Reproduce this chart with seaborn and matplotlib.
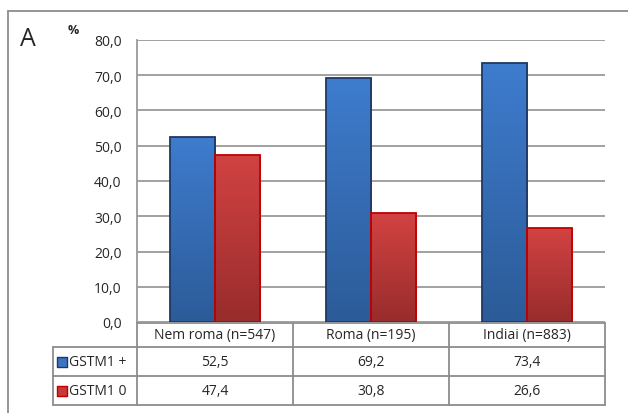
import numpy as np
import pandas as pd
import matplotlib
matplotlib.use("Agg")
import matplotlib.pyplot as plt
from matplotlib.colors import LinearSegmentedColormap
import seaborn as sns

categories = ["Nem roma (n=547)", "Roma (n=195)", "Indiai (n=883)"]
series = ["GSTM1 +", "GSTM1 0"]
gstm1_pos = [52.5, 69.2, 73.4]
gstm1_null = [47.4, 30.8, 26.6]
yticks = [0, 10, 20, 30, 40, 50, 60, 70, 80]

df = pd.DataFrame({
    "cat": categories * 2,
    "series": [series[0]] * 3 + [series[1]] * 3,
    "val": gstm1_pos + gstm1_null,
})

sns.set_theme(style="white")
plt.rcParams['font.family'] = ['Open Sans', 'DejaVu Sans']

W, H = 628, 414
fig = plt.figure(figsize=(W / 100, H / 100), dpi=100)

def fx(px):
    return px / W

def fy(py):
    return 1 - py / H

FS = 10

# main axes
L, R, T, B = 137, 605, 41, 323
ax = fig.add_axes([fx(L), fy(B), fx(R - L), (B - T) / H])

pal = {series[0]: "#3a74c2", series[1]: "#c83a3a"}
edges = {series[0]: "#1f3864", series[1]: "#c00000"}
sns.barplot(data=df, x="cat", y="val", hue="series", palette=pal, ax=ax,
            width=0.58, legend=False, saturation=1)

grad = {
    series[0]: LinearSegmentedColormap.from_list("b", ["#2c5b98", "#3e7cce"]),
    series[1]: LinearSegmentedColormap.from_list("r", ["#992c2c", "#d24242"]),
}
bars = list(ax.patches)
for i, p in enumerate(bars):
    s = series[0] if i < 3 else series[1]
    p.set_edgecolor(edges[s])
    p.set_linewidth(1.3)
    x0, y0 = p.get_x(), p.get_y()
    w, h = p.get_width(), p.get_height()
    img = np.linspace(0, 1, 100).reshape(-1, 1)
    im = ax.imshow(img, cmap=grad[s], origin="lower", aspect="auto",
                   extent=[x0, x0 + w, y0, y0 + h], zorder=p.get_zorder())
    im.set_clip_path(p)
    p.set_facecolor("none")
    p.set_zorder(3)

ax.set_xlim(-0.5, 2.5)
ax.set_ylim(0, 80)
ax.set_yticks(yticks)
ax.set_yticklabels([f"{v:.1f}".replace(".", ",") for v in yticks], fontsize=FS)
ax.tick_params(axis="y", length=0, pad=11)
ax.set_xticks([])
ax.set_xlabel("")
ax.set_ylabel("")
ax.grid(axis="y", color="#9a9a9a", linewidth=1.3)
ax.set_axisbelow(True)
for sp in ["top", "right", "bottom"]:
    ax.spines[sp].set_visible(False)
ax.spines["left"].set_color("#9a9a9a")
ax.spines["left"].set_linewidth(1.3)

# data table
TL, TT, TB = 53, 324, 406
tax = fig.add_axes([fx(TL), fy(TB), fx(R - TL), (TB - TT) / H])
unit = (R - L) / 3
left_units = (L - TL) / unit
tax.set_xlim(-0.5 - left_units, 2.5)
tax.set_ylim(TB, TT)
tax.axis("off")
rows = [324, 348, 377, 406]
lc = "#8c8c8c"
lw = 1.3
tax.plot([-0.5, 2.5], [rows[0], rows[0]], color=lc, lw=lw, clip_on=False)
for xv in [-0.5, 0.5, 1.5, 2.5]:
    tax.plot([xv, xv], [rows[0], rows[3]], color=lc, lw=lw, clip_on=False)
xl = -0.5 - left_units
for yv in rows[1:]:
    tax.plot([xl, 2.5], [yv, yv], color=lc, lw=lw, clip_on=False)
tax.plot([xl, xl], [rows[1], rows[3]], color=lc, lw=lw, clip_on=False)

for j, c in enumerate(categories):
    tax.text(j, (rows[0] + rows[1]) / 2, c, ha="center", va="center", fontsize=FS)
for r, (name, vals) in enumerate(zip(series, [gstm1_pos, gstm1_null])):
    yc = (rows[r + 1] + rows[r + 2]) / 2
    for j, v in enumerate(vals):
        tax.text(j, yc, f"{v:.1f}".replace(".", ","), ha="center", va="center", fontsize=FS)
    tax.scatter([xl + 0.06], [yc], marker="s", s=42, color=pal[name],
                edgecolor=edges[name], linewidth=1.0, clip_on=False, zorder=5)
    tax.text(xl + 0.105, yc, name, ha="left", va="center", fontsize=FS)

# frame and labels
fig.add_artist(plt.Line2D([fx(8), 1], [fy(12), fy(12)], color="#8c8c8c", lw=1.3))
fig.add_artist(plt.Line2D([fx(8), fx(8)], [fy(12), 0], color="#8c8c8c", lw=1.3))
fig.text(fx(20), fy(40), "A", fontsize=18, va="center", ha="left")
fig.text(fx(73), fy(31), "%", fontsize=9, fontweight="bold", va="center", ha="center")

fig.savefig("out.png", dpi=100)
